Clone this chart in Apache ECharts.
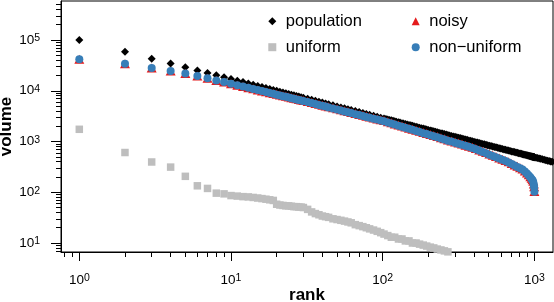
<!DOCTYPE html>
<html><head><meta charset="utf-8">
<script src="https://cdn.jsdelivr.net/npm/echarts@6/dist/echarts.min.js"></script>
<style>html,body{margin:0;padding:0;background:#fff}#c{width:554px;height:302px}</style>
</head><body><div id="c"></div>
<script>
// ---- data ----
const ranks = [1,2,3,4,5,6,7,8,9,10,11,12,13,14,15,16,17,18,19,20,21,22,23,24,25,26,27,28,29,30,
  32,34,36,38,40,42,44,47,50,53,
  56,59,62,66,70,74,78,82,87,92,
  97,102,108,114,120,127,134,141,149,157,
  166,175,185,195,206,217,229,242,255,269,
  284,300,316,333,351,370,390,411,433,456,
  480,505,531,558,586,615,645,676,708,740,
  772,804,835,865,893,918,940,958,972,983,
  991,996,1000];

const population = [100000,58600,42900,34400,29000,25200,22400,20200,18400,17000,15800,14800,13900,13100,12400,11800,11300,10800,10400,9960,9590,9250,8940,8650,8390,8140,7910,7690,7480,7290,
  6930,6620,6330,6080,5840,5620,5430,5160,4920,4700,
  4510,4330,4170,3970,3800,3640,3490,3360,3210,3080,
  2950,2840,2720,2610,2510,2400,2300,2210,2120,2040,
  1950,1870,1800,1720,1650,1590,1520,1460,1400,1350,
  1290,1240,1190,1140,1100,1050,1010,971,933,897,
  862,829,797,767,739,712,686,662,639,618,
  598,579,563,548,534,523,514,506,501,496,
  493,491,490];
// extra population points (the population runs past rank 1000 and is a dense band)
const populationExtraRanks = [105,111,117,123,130,137,145,153,161,170,180,190,200,211,223,235,248,262,276,292,
  308,324,342,360,380,400,422,444,468,492,518,544,572,600,630,660,692,724,756,788,
  820,850,879,905,929,949,965,977,987,994,
  1025,1050,1075,1100,1130,1160,1190,1220,1250,1280,1310,1340,1370,1400];
const populationExtra = [2780,2660,2560,2460,2360,2260,2170,2080,2000,1920,1830,1760,1690,1620,1560,1490,1430,1370,1320,1260,
  1210,1170,1120,1080,1030,992,952,915,879,846,813,783,753,726,699,675,650,628,607,589,
  571,555,541,529,518,510,503,499,495,492,
  481,472,463,455,446,437,428,420,413,405,398,391,384,378];

const noisy = [41700,33900,28200,24500,21900,19500,17600,16000,14800,13800,12900,12100,11500,10900,10400,9940,9550,9180,8830,8550,8250,7990,7750,7520,7300,7110,6930,6750,6590,6440,
  6150,5880,5630,5410,5200,5020,4840,4600,4400,4210,
  4040,3880,3740,3560,3410,3280,3140,3030,2890,2780,
  2670,2580,2440,2330,2220,2110,2020,1930,1830,1750,
  1660,1590,1500,1440,1370,1310,1250,1180,1130,1070,
  1020,975,931,889,848,809,771,727,683,642,
  604,568,535,504,475,448,423,397,370,345,
  324,305,288,263,240,221,203,188,177,165,
  146,128,104];

const nonUniform = [41700,33900,28200,24500,21900,19500,17600,16000,14800,13800,12900,12100,11400,10800,10300,9840,9430,9050,8700,8390,8100,7830,7590,7360,7140,6940,6760,6580,6420,6270,
  5980,5710,5470,5250,5050,4870,4700,4470,4270,4090,
  3920,3770,3630,3460,3310,3180,3050,2940,2810,2700,
  2590,2500,2370,2260,2160,2050,1960,1870,1780,1700,
  1610,1540,1460,1400,1330,1270,1210,1150,1100,1040,
  995,947,904,863,823,785,749,706,663,623,
  586,551,519,489,461,435,411,385,359,335,
  315,296,280,256,233,215,197,183,172,160,
  142,125,102];

const uniform = [1740,607,395,313,206,134,119,96,93,86,84,82,81,79,77,75,73,71,69,58,56,55,54,54,53,52,52,51,51,50,
  46,41,38,36,34,33,32,30,29,28,
  27,26,25,23,22,21,20,19,18,17,
  16,15,14,13,13,12,12,11,11,10,
  10,9.5,9.1,8.7,8.3,8.0,7.6,7.3,7.0,6.7,
  6.5,6.2,6.0,5.8,5.5,5.3,5.1,4.9,4.7,4.5];

const xMajorTicks = [1,10,100,1000];
const xMinorTicks = [0.8,0.9,2,3,4,5,6,7,8,9,20,30,40,50,60,70,80,90,200,300,400,500,600,700,800,900];
const yMajorTicks = [10,100,1000,10000,100000];
const yMinorTicks = [7,8,9,20,30,40,50,60,70,80,90,200,300,400,500,600,700,800,900,
  2000,3000,4000,5000,6000,7000,8000,9000,20000,30000,40000,50000,60000,70000,80000,90000,
  200000,300000,400000,500000];

// ---- chart ----
const FONT = '"Liberation Sans", Arial, Helvetica, sans-serif';
const X_MIN = 0.7574, X_MAX = 1326;
const Y_MIN = 6.65, Y_MAX = 586900;
function pairs(xs, ys) { return ys.map((v, i) => [xs[i], v]); }
function powLabel(v) { return '{b|10}{s|' + Math.round(Math.log10(v)) + '}'; }
const rich = {
  b: { fontSize: 13.5, fontFamily: FONT, color: '#000', lineHeight: 14, verticalAlign: 'bottom' },
  s: { fontSize: 10.5, fontFamily: FONT, color: '#000', lineHeight: 10, verticalAlign: 'top' }
};
const black = '#000';
const chart = echarts.init(document.getElementById('c'), null, { renderer: 'canvas' });
chart.setOption({
  animation: false,
  backgroundColor: '#fff',
  textStyle: { fontFamily: FONT },
  grid: { left: 61, right: 1, top: 1, bottom: 50, show: true, borderColor: black, borderWidth: 1,
    backgroundColor: 'transparent', containLabel: false, outerBoundsMode: 'none' },
  xAxis: [
    { type: 'log', min: X_MIN, max: X_MAX, position: 'bottom',
      axisLine: { show: true, lineStyle: { color: black, width: 1 } },
      axisTick: { show: true, length: 9, customValues: xMajorTicks, lineStyle: { color: black, width: 1 } },
      axisLabel: { show: true, customValues: xMajorTicks, formatter: powLabel, rich: rich, margin: 21 },
      splitLine: { show: false },
      name: 'rank', nameLocation: 'middle', nameGap: 35, nameMoveOverlap: false,
      nameTextStyle: { fontWeight: 'bold', fontSize: 17, fontFamily: FONT, color: black, lineHeight: 17 } },
    { type: 'log', min: X_MIN, max: X_MAX, position: 'bottom',
      axisLine: { show: false },
      axisTick: { show: true, length: 5, customValues: xMinorTicks, lineStyle: { color: black, width: 1 } },
      axisLabel: { show: false }, splitLine: { show: false } }
  ],
  yAxis: [
    { type: 'log', min: Y_MIN, max: Y_MAX, position: 'left',
      axisLine: { show: true, lineStyle: { color: black, width: 1 } },
      axisTick: { show: true, length: 10, customValues: yMajorTicks, lineStyle: { color: black, width: 1 } },
      axisLabel: { show: true, customValues: yMajorTicks, formatter: powLabel, rich: rich, margin: 21 },
      splitLine: { show: false },
      name: 'volume', nameLocation: 'middle', nameGap: 46, nameMoveOverlap: false,
      nameTextStyle: { fontWeight: 'bold', fontSize: 17, fontFamily: FONT, color: black, lineHeight: 17 } },
    { type: 'log', min: Y_MIN, max: Y_MAX, position: 'left',
      axisLine: { show: false },
      axisTick: { show: true, length: 5, customValues: yMinorTicks, lineStyle: { color: black, width: 1 } },
      axisLabel: { show: false }, splitLine: { show: false } }
  ],
  legend: [
    { orient: 'vertical', left: 268.3, top: 12.7, padding: 0, itemGap: 9, itemWidth: 8, itemHeight: 8,
      selectedMode: false,
      data: [{ name: 'population', icon: 'diamond' }, { name: 'uniform', icon: 'rect' }],
      textStyle: { fontSize: 16.5, fontFamily: FONT, color: black, lineHeight: 16, padding: [0, 0, 0, 4.5] } },
    { orient: 'vertical', left: 411.7, top: 12.7, padding: 0, itemGap: 9, itemWidth: 8, itemHeight: 8,
      selectedMode: false,
      data: [{ name: 'noisy', icon: 'triangle' }, { name: 'non\u2212uniform', icon: 'circle' }],
      textStyle: { fontSize: 16.5, fontFamily: FONT, color: black, lineHeight: 16, padding: [0, 0, 0, 4.5] } }
  ],
  series: [
    { type: 'scatter', name: 'population', xAxisIndex: 0, yAxisIndex: 0,
      data: pairs(ranks, population).concat(pairs(populationExtraRanks, populationExtra)),
      symbol: 'diamond', symbolSize: 8, itemStyle: { color: black, opacity: 1 }, clip: true },
    { type: 'scatter', name: 'uniform', xAxisIndex: 0, yAxisIndex: 0,
      data: pairs(ranks, uniform),
      symbol: 'rect', symbolSize: 7.5, itemStyle: { color: '#bebebe', opacity: 1 }, clip: true },
    { type: 'scatter', name: 'noisy', xAxisIndex: 0, yAxisIndex: 0,
      data: pairs(ranks, noisy),
      symbol: 'triangle', symbolSize: [10, 9], itemStyle: { color: '#e41a1c', opacity: 1 }, clip: true },
    { type: 'scatter', name: 'non\u2212uniform', xAxisIndex: 0, yAxisIndex: 0,
      data: pairs(ranks, nonUniform),
      symbol: 'circle', symbolSize: 8, itemStyle: { color: '#377eb8', opacity: 1 }, clip: true }
  ]
});
</script>
</body></html>
